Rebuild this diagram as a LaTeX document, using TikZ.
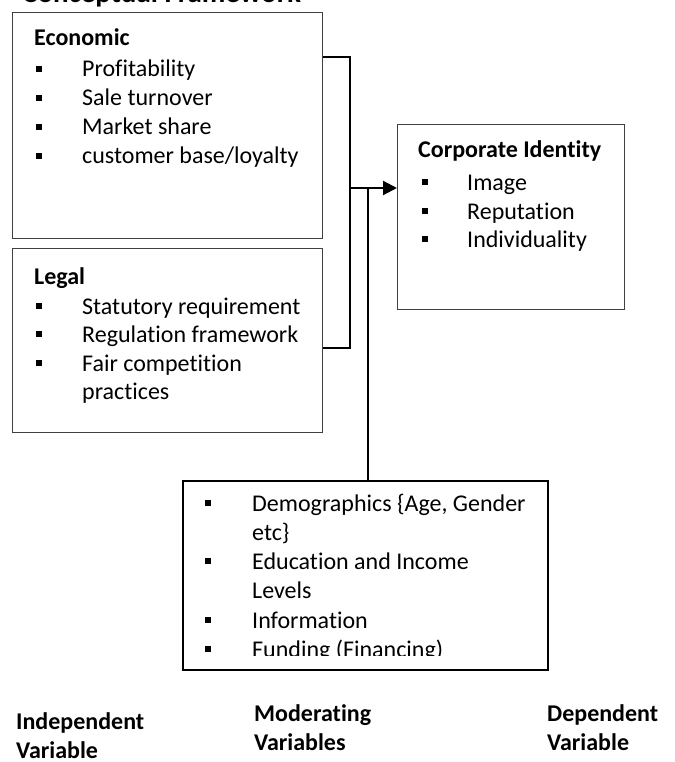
\documentclass[tikz,border=0pt]{standalone}
\usepackage{fontspec}
\setmainfont{Carlito}[Ligatures={NoCommon}]
\usetikzlibrary{arrows.meta}
\definecolor{boxgray}{HTML}{404040}
\begin{document}
\begin{tikzpicture}[x=1pt,y=-1pt,
  txt/.style={anchor=base west, inner sep=0pt, font=\fontsize{24}{29}\selectfont},
  head/.style={txt, font=\bfseries\fontsize{24}{29}\selectfont},
  boxg/.style={draw=boxgray, line width=1.4pt, anchor=north west, inner sep=0pt},
  boxk/.style={draw=black, line width=1.8pt, anchor=north west, inner sep=0pt},
  conn/.style={draw=black, line width=2pt},
  arr/.style={conn, -{Triangle[length=14pt,width=14pt]}}]
\useasboundingbox (0,0) rectangle (674,762);
\newcommand{\bul}[2]{\fill (#1-3,#2-11) rectangle (#1+3,#2-5);}
% title (cut at top)
\node[anchor=base west, inner sep=0pt, font=\bfseries\fontsize{29}{35}\selectfont] (title) at (22,3) {Conceptual Framework};
% boxes
\node[boxg, minimum width=310pt, minimum height=226pt] (econ) at (12,12) {};
\node[boxg, minimum width=310pt, minimum height=184pt] (legal) at (12,248) {};
\node[boxg, minimum width=227pt, minimum height=185pt] (corp) at (397,124) {};
\node[boxk, minimum width=365pt, minimum height=189pt] (moder) at (182,480) {};
% economic
\node[head] (econh) at (34,46) {Economic};
\bul{39}{77}\node[txt] (e1) at (82,77) {Profitability};
\bul{39}{106}\node[txt] (e2) at (82,106) {Sale turnover};
\bul{39}{135}\node[txt] (e3) at (82,135) {Market share};
\bul{39}{164}\node[txt] (e4) at (82,164) {customer base/loyalty};
% legal
\node[head] (legalh) at (34,284) {Legal};
\bul{39}{314}\node[txt] (l1) at (82,314) {Statutory requirement};
\bul{39}{342}\node[txt] (l2) at (82,342) {Regulation framework};
\bul{39}{371}\node[txt] (l3) at (82,371) {Fair competition};
\node[txt] (l4) at (82,399) {practices};
% corporate identity
\node[head] (corph) at (418,158) {Corporate Identity};
\bul{425}{190}\node[txt] (c1) at (467,190) {Image};
\bul{425}{219}\node[txt] (c2) at (467,219) {Reputation};
\bul{425}{247}\node[txt] (c3) at (467,247) {Individuality};
% moderating
\bul{208}{511}\node[txt] (m1) at (252,511) {Demographics \{Age, Gender};
\node[txt] (m1b) at (252,540) {etc\}};
\bul{208}{569}\node[txt] (m2) at (252,569) {Education and Income};
\node[txt] (m2b) at (252,598) {Levels};
\bul{208}{628}\node[txt] (m3) at (252,628) {Information};
\bul{208}{657}
\begin{scope}
\clip (182,480) rectangle (547,655);
\node[txt] (m4) at (252,657) {Funding (Financing)};
\end{scope}
% connectors
\coordinate (bus) at (350,188);
\coordinate (mj) at (368,188);
\draw[conn] (econ.east |- 0,57) -| (bus) |- (legal.east |- 0,348);
\draw[arr] (bus) -- (corp.west |- bus);
\draw[conn] (moder.north -| mj) -- (mj);
% bottom labels
\node[head] (iv1) at (16,729) {Independent};
\node[head] (iv2) at (16,758) {Variable};
\node[head] (mv1) at (254,721) {Moderating};
\node[head] (mv2) at (254,750) {Variables};
\node[head] (dv1) at (547,721) {Dependent};
\node[head] (dv2) at (547,750) {Variable};
\end{tikzpicture}
\end{document}
